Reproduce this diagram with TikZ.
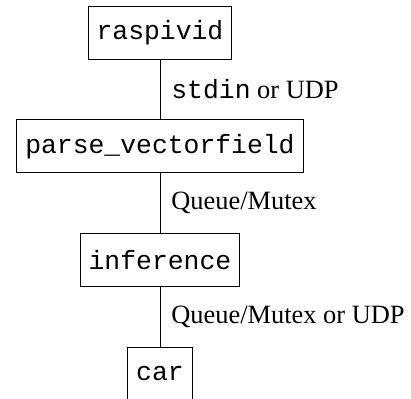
\documentclass[tikz,border=0pt,12pt]{standalone}
\usepackage{fontspec}
\setmainfont{Liberation Serif}
\setmonofont{Liberation Mono}
\usetikzlibrary{positioning}

\begin{document}
\begin{tikzpicture}[proc/.style={draw, font=\ttfamily, minimum height=24pt, inner xsep=3.8pt}, node distance=27.3pt]
			\useasboundingbox (-72.7pt,14.8pt) rectangle (114.1pt,-166.2pt);
			\node[proc] (cam) at (0,0) {raspivid};
			\node[proc, below=of cam] (parse) {parse\_vectorfield};
			\node[proc, below=of parse] (inf) {inference};
			\node[proc, below=of inf] (car) {car};
			\draw (cam) -- (parse) node[midway,right=1pt]{\texttt{stdin} or UDP};
			\draw (parse) -- (inf) node[midway,right=1pt]{Queue/Mutex};
			\draw (inf) -- (car) node[midway,right=1pt]{Queue/Mutex or UDP};
		\end{tikzpicture}
\end{document}
